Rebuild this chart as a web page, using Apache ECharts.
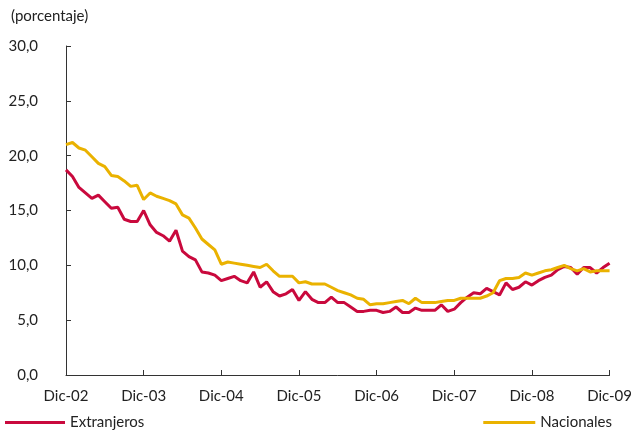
<!DOCTYPE html>
<html>
<head>
<meta charset="utf-8">
<script src="https://cdn.jsdelivr.net/npm/echarts@6/dist/echarts.min.js"></script>
<style>
html,body{margin:0;padding:0;background:#fff;}
#c{width:635px;height:430px;}
</style>
</head>
<body>
<div id="c"></div>
<script>
// Monthly series, Dic-02 .. Dic-09 (85 months)
const tickLabels = ['Dic-02','Dic-03','Dic-04','Dic-05','Dic-06','Dic-07','Dic-08','Dic-09'];

const extranjeros = [
  18.7, 18.1, 17.1, 16.6, 16.1, 16.4, 15.8, 15.2, 15.3, 14.2, 14.0, 14.0,
  15.0, 13.7, 13.0, 12.7, 12.2, 13.2, 11.3, 10.8, 10.5, 9.4, 9.3, 9.1,
  8.6, 8.8, 9.0, 8.6, 8.4, 9.4, 8.0, 8.5, 7.6, 7.2, 7.4, 7.8,
  6.8, 7.6, 6.9, 6.6, 6.6, 7.1, 6.6, 6.6, 6.2, 5.8, 5.8, 5.9,
  5.9, 5.7, 5.8, 6.2, 5.7, 5.7, 6.1, 5.9, 5.9, 5.9, 6.4, 5.8,
  6.0, 6.6, 7.1, 7.5, 7.4, 7.9, 7.6, 7.3, 8.4, 7.8, 8.0, 8.5,
  8.2, 8.6, 8.9, 9.1, 9.6, 9.9, 9.8, 9.2, 9.8, 9.8, 9.3, 9.8,
  10.2
];

const nacionales = [
  21.0, 21.2, 20.7, 20.5, 19.9, 19.3, 19.0, 18.2, 18.1, 17.7, 17.2, 17.3,
  16.0, 16.6, 16.3, 16.1, 15.9, 15.6, 14.6, 14.3, 13.4, 12.4, 11.9, 11.4,
  10.1, 10.3, 10.2, 10.1, 10.0, 9.9, 9.8, 10.1, 9.5, 9.0, 9.0, 9.0,
  8.4, 8.5, 8.3, 8.3, 8.3, 8.0, 7.7, 7.5, 7.3, 7.0, 6.9, 6.4,
  6.5, 6.5, 6.6, 6.7, 6.8, 6.5, 7.0, 6.6, 6.6, 6.6, 6.7, 6.8,
  6.8, 7.0, 7.0, 7.0, 7.0, 7.2, 7.5, 8.6, 8.8, 8.8, 8.9, 9.3,
  9.1, 9.3, 9.5, 9.6, 9.8, 10.0, 9.7, 9.5, 9.7, 9.4, 9.5, 9.5,
  9.5
];

const RED = '#C9093D';
const YEL = '#EAB200';
const FONT = 'Lato';
const TXT = '#222';

const toPairs = arr => arr.map((v, i) => [i, v]);

const chart = echarts.init(document.getElementById('c'), null, {renderer: 'canvas'});
chart.setOption({
  animation: false,
  backgroundColor: '#fff',
  textStyle: {fontFamily: FONT, color: TXT},
  title: {
    text: '(porcentaje)',
    left: 6, top: 4,
    textStyle: {fontFamily: FONT, fontSize: 15, fontWeight: 'normal', color: TXT}
  },
  legend: [
    {
      data: ['Extranjeros'],
      left: 0, top: 410,
      icon: 'rect', itemWidth: 60, itemHeight: 3, itemGap: 4,
      textStyle: {fontFamily: FONT, fontSize: 15, color: TXT}
    },
    {
      data: ['Nacionales'],
      right: 18, top: 410,
      icon: 'rect', itemWidth: 52, itemHeight: 3, itemGap: 4,
      textStyle: {fontFamily: FONT, fontSize: 15, color: TXT}
    }
  ],
  grid: {left: 66, right: 22, top: 46, bottom: 55, containLabel: false},
  xAxis: {
    type: 'value',
    min: 0, max: 84, interval: 12,
    axisLine: {show: true, lineStyle: {color: '#333', width: 1}},
    axisTick: {show: true, inside: true, length: 5, lineStyle: {color: '#333'}},
    splitLine: {show: false},
    axisLabel: {
      margin: 14, fontSize: 15, color: TXT, fontFamily: FONT,
      formatter: v => tickLabels[Math.round(v / 12)] || ''
    }
  },
  yAxis: {
    type: 'value',
    min: 0, max: 30, interval: 5,
    axisLine: {show: true, lineStyle: {color: '#333', width: 1}},
    axisTick: {show: true, inside: true, length: 5, lineStyle: {color: '#333'}},
    splitLine: {show: false},
    axisLabel: {
      margin: 28, fontSize: 15, color: TXT, fontFamily: FONT,
      formatter: v => v.toFixed(1).replace('.', ',')
    }
  },
  series: [
    {
      name: 'Extranjeros', type: 'line', data: toPairs(extranjeros),
      symbol: 'none', lineStyle: {color: RED, width: 3}, itemStyle: {color: RED}, z: 2
    },
    {
      name: 'Nacionales', type: 'line', data: toPairs(nacionales),
      symbol: 'none', lineStyle: {color: YEL, width: 3}, itemStyle: {color: YEL}, z: 3
    }
  ]
});
</script>
</body>
</html>
